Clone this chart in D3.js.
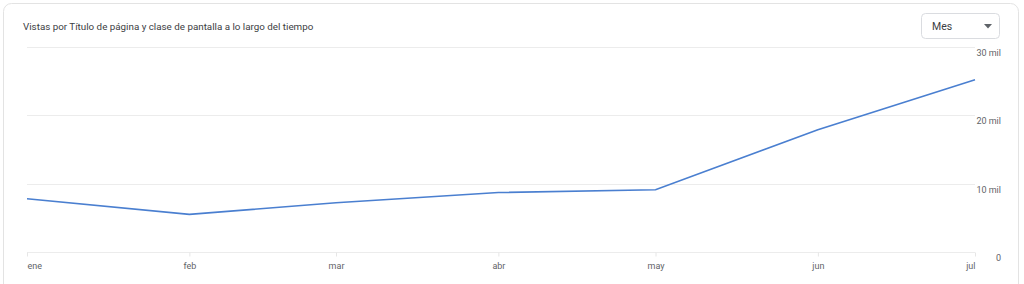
<!DOCTYPE html>
<html>
<head>
<meta charset="utf-8">
<script src="https://cdn.jsdelivr.net/npm/d3@7"></script>
<style>
  body { margin: 0; background: #fff; }
  .axis-text { font-family: Roboto, sans-serif; font-size: 9px; fill: #5f6368; }
  .domain { display: none; }
</style>
</head>
<body>
<div id="chart"></div>
<script>
const months = ['ene', 'feb', 'mar', 'abr', 'may', 'jun', 'jul'];
const dates = [
  new Date(2023, 0, 1), new Date(2023, 1, 1), new Date(2023, 2, 1),
  new Date(2023, 3, 1), new Date(2023, 4, 1), new Date(2023, 5, 1),
  new Date(2023, 6, 1)
];
const views = [7800, 5500, 7200, 8700, 9100, 17900, 25200];
const yTicks = [0, 10000, 20000, 30000];
const yTickLabels = ['0', '10 mil', '20 mil', '30 mil'];

const W = 1024, H = 284;
const svg = d3.select('#chart').append('svg').attr('width', W).attr('height', H);

// card
svg.append('rect')
  .attr('x', 3.5).attr('y', 3.5).attr('width', 1015).attr('height', 300)
  .attr('rx', 8).attr('fill', '#fff').attr('stroke', '#e3e3e3');

svg.append('text')
  .attr('x', 23).attr('y', 29.5)
  .style('font-family', 'Roboto, sans-serif').style('font-size', '9.8px')
  .attr('fill', '#3c4043')
  .text('Vistas por Título de página y clase de pantalla a lo largo del tiempo');

// dropdown
const dd = svg.append('g');
dd.append('rect').attr('x', 921.5).attr('y', 13.5).attr('width', 78).attr('height', 25)
  .attr('rx', 4).attr('fill', '#fff').attr('stroke', '#dadce0');
dd.append('text').attr('x', 932).attr('y', 30)
  .style('font-family', 'Roboto, sans-serif').style('font-size', '10.5px')
  .attr('fill', '#3c4043').text('Mes');
dd.append('path').attr('d', 'M984,24 L992,24 L988,28.5 Z').attr('fill', '#5f6368');

const x = d3.scaleTime().domain(d3.extent(dates)).range([27, 975]);
const y = d3.scaleLinear().domain([0, 30000]).range([252, 47]);

// grid lines
svg.append('g').selectAll('line').data(yTicks).join('line')
  .attr('x1', 27).attr('x2', 975)
  .attr('y1', d => Math.round(y(d)) + 0.5).attr('y2', d => Math.round(y(d)) + 0.5)
  .attr('stroke', '#ececec');

// y labels (right side, just below each gridline)
svg.append('g').attr('class', 'axis-text').selectAll('text').data(yTicks).join('text')
  .attr('x', 1001).attr('y', d => y(d) + 9)
  .attr('text-anchor', 'end')
  .text((d, i) => yTickLabels[i]);

// x axis
const xAxis = svg.append('g')
  .attr('transform', 'translate(0,252.5)')
  .call(d3.axisBottom(x).tickValues(dates).tickFormat((d, i) => months[i]).tickSize(4).tickPadding(6))
  .attr('class', 'axis-text');
xAxis.selectAll('line').attr('stroke', '#e6e6e6');
xAxis.selectAll('text')
  .attr('fill', '#5f6368')
  .style('font-family', 'Roboto, sans-serif').style('font-size', '9px')
  .attr('text-anchor', (d, i) => i === 0 ? 'start' : (i === dates.length - 1 ? 'end' : 'middle'));

// line
const line = d3.line()
  .x((d, i) => x(dates[i]))
  .y(d => y(d));

svg.append('path')
  .datum(views)
  .attr('fill', 'none')
  .attr('stroke', '#4a7fd0')
  .attr('stroke-width', 1.6)
  .attr('d', line);
</script>
</body>
</html>
